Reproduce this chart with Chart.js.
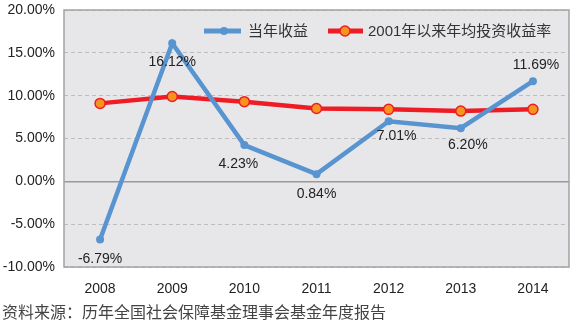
<!DOCTYPE html>
<html>
<head>
<meta charset="utf-8">
<script src="https://cdn.jsdelivr.net/npm/chart.js@4"></script>
<style>
  body { margin: 0; background: #fff; }
  #wrap { width: 577px; height: 329px; }
</style>
</head>
<body>
<div id="wrap"><canvas id="fundChart" width="577" height="329"></canvas></div>
<script>
var years = ['2008', '2009', '2010', '2011', '2012', '2013', '2014'];
var yearReturn = [-6.79, 16.12, 4.23, 0.84, 7.01, 6.20, 11.69];
var avgReturn = [9.1, 9.9, 9.3, 8.5, 8.4, 8.2, 8.4];
var seriesNames = ['当年收益', '2001年以来年均投资收益率'];
var sourceNote = '资料来源：历年全国社会保障基金理事会基金年度报告';

var blue = '#5894d0';
var red = '#ee1c25';
var orange = '#f7941d';
var txtFont = '"Liberation Sans", Arial, "Noto Sans CJK SC", sans-serif';

// label offsets [dx, dy] from each point of the blue line
var labelPos = [[0, 20], [0, 19], [-6, 19], [0, 20], [8, 15], [7, 17], [3, -16]];

var bgPlugin = {
    id: 'bg',
    beforeDraw: function (chart) {
        var a = chart.chartArea, c = chart.ctx;
        c.save();
        c.fillStyle = '#e7e7ea';
        c.fillRect(a.left, a.top, a.right - a.left, a.bottom - a.top);
        c.restore();
    },
    afterDatasetsDraw: function (chart) {
        var a = chart.chartArea, c = chart.ctx;
        c.save();
        c.strokeStyle = '#a3a3a3';
        c.lineWidth = 1.5;
        c.strokeRect(a.left, a.top, a.right - a.left, a.bottom - a.top);

        // value labels
        var meta = chart.getDatasetMeta(0);
        c.font = '14px ' + txtFont;
        c.fillStyle = '#222';
        c.textAlign = 'center';
        c.textBaseline = 'middle';
        meta.data.forEach(function (pt, i) {
            c.fillText(yearReturn[i].toFixed(2) + '%', pt.x + labelPos[i][0], pt.y + labelPos[i][1]);
        });

        // legend
        var ly = 31;
        c.lineWidth = 5;
        c.strokeStyle = blue;
        c.beginPath(); c.moveTo(204, ly); c.lineTo(241, ly); c.stroke();
        c.fillStyle = blue;
        c.beginPath(); c.arc(224, ly, 4, 0, Math.PI * 2); c.fill();
        c.strokeStyle = red;
        c.beginPath(); c.moveTo(328, ly); c.lineTo(363, ly); c.stroke();
        c.fillStyle = orange;
        c.lineWidth = 1.5;
        c.beginPath(); c.arc(345, ly, 5, 0, Math.PI * 2); c.fill(); c.stroke();
        c.font = '15px ' + txtFont;
        c.fillStyle = '#333';
        c.textAlign = 'left';
        c.fillText(seriesNames[0], 248, ly + 1);
        c.fillText(seriesNames[1], 368, ly + 1);

        // source
        c.font = '16px ' + txtFont;
        c.fillStyle = '#444';
        c.fillText(sourceNote, 2, 314);
        c.restore();
    }
};

var ctx = document.getElementById('fundChart');
var myChart = new Chart(ctx, {
    type: 'line',
    data: {
        labels: years,
        datasets: [{
            label: seriesNames[0],
            data: yearReturn,
            borderColor: blue,
            backgroundColor: blue,
            borderWidth: 4.5,
            pointRadius: 4,
            pointBorderWidth: 0,
            tension: 0
        }, {
            label: seriesNames[1],
            data: avgReturn,
            borderColor: red,
            backgroundColor: orange,
            borderWidth: 4.5,
            pointRadius: 5,
            pointBorderWidth: 1.5,
            pointBorderColor: red,
            tension: 0
        }]
    },
    options: {
        responsive: false,
        animation: false,
        layout: { padding: { left: 0, right: 8, top: 10, bottom: 32 } },
        plugins: {
            legend: { display: false },
            tooltip: { enabled: false }
        },
        scales: {
            x: {
                offset: true,
                grid: { display: false },
                border: { display: false },
                ticks: { color: '#222', font: { size: 14, family: txtFont }, padding: 6 },
                afterFit: function (s) { s.height = 30; }
            },
            y: {
                min: -10,
                max: 20,
                grid: {
                    color: function (c) { return c.tick.value === 0 ? '#9a9a9a' : '#bdbdbd'; },
                    lineWidth: function (c) { return c.tick.value === 0 ? 1.5 : 1; },
                    drawTicks: false
                },
                border: {
                    display: false,
                    dash: function (c) { return c.tick && c.tick.value === 0 ? [] : [4, 3]; }
                },
                ticks: {
                    stepSize: 5,
                    color: '#222',
                    padding: 9,
                    font: { size: 14, family: txtFont },
                    callback: function (v) { return v.toFixed(2) + '%'; }
                },
                afterFit: function (s) {
                    s.width = 64;
                    s.paddingTop = 0;
                    s.paddingBottom = 0;
                }
            }
        }
    },
    plugins: [bgPlugin]
});
</script>
</body>
</html>
